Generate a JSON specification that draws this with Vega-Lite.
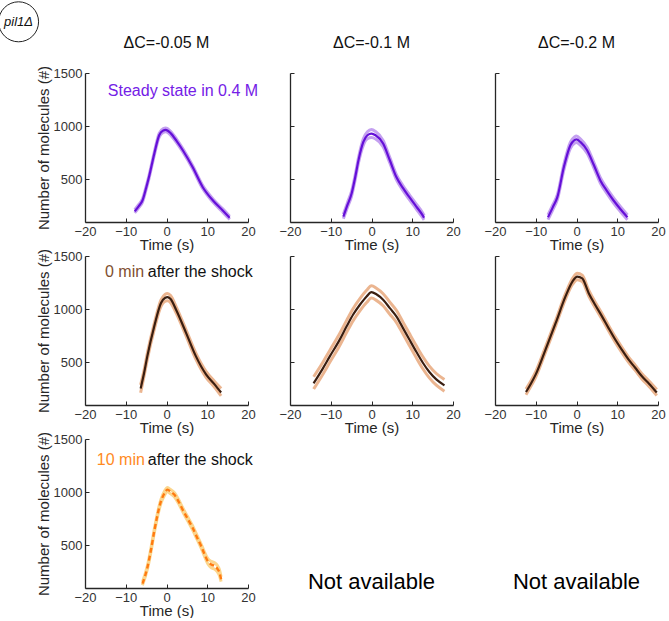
{
"$schema":"https://vega.github.io/schema/vega-lite/v6.json",
"padding":{"left":-4,"top":-1,"right":0,"bottom":0},
"bounds":"flush",
"columns":3,
"spacing":{"row":34,"column":42},
"config":{
 "view":{"stroke":null},
 "axis":{"grid":false,"format":"d","domainColor":"#262626","domainWidth":1.3,"tickColor":"#262626","tickSize":-4,"tickWidth":1,"labelColor":"#333333","labelFont":"Liberation Sans","labelFontSize":13,"labelFlush":false,"labelOverlap":false,"titleFont":"Liberation Sans","titleFontSize":15,"titleFontWeight":"normal","titleColor":"#262626"},
 "axisX":{"labelPadding":7,"titlePadding":-1},
 "axisY":{"labelPadding":7,"titlePadding":2},
 "text":{"font":"Liberation Sans"}
},
"datasets":{
 "p11":[{"t":-7.8,"y":201,"lo":186,"hi":216},{"t":-6.8,"y":250,"lo":235,"hi":265},{"t":-5.9,"y":302,"lo":287,"hi":317},{"t":-5.0,"y":420,"lo":405,"hi":435},{"t":-4.3,"y":522,"lo":507,"hi":537},{"t":-3.0,"y":742,"lo":727,"hi":757},{"t":-1.8,"y":915,"lo":898,"hi":932},{"t":-0.8,"y":960,"lo":942,"hi":978},{"t":-0.2,"y":965,"lo":947,"hi":983},{"t":1.0,"y":935,"lo":917,"hi":953},{"t":2.5,"y":860,"lo":843,"hi":877},{"t":4.0,"y":774,"lo":758,"hi":790},{"t":6.4,"y":616,"lo":601,"hi":631},{"t":8.9,"y":427,"lo":412,"hi":442},{"t":11.4,"y":302,"lo":287,"hi":317},{"t":13.8,"y":208,"lo":193,"hi":223},{"t":15.5,"y":139,"lo":124,"hi":154}],
 "p12":[{"t":-6.9,"y":151,"lo":130,"hi":172},{"t":-5.9,"y":260,"lo":238,"hi":282},{"t":-4.9,"y":365,"lo":342,"hi":388},{"t":-4.0,"y":520,"lo":497,"hi":543},{"t":-3.2,"y":679,"lo":655,"hi":703},{"t":-2.0,"y":852,"lo":822,"hi":882},{"t":-1.0,"y":915,"lo":882,"hi":948},{"t":0,"y":931,"lo":893,"hi":969},{"t":1.0,"y":915,"lo":880,"hi":950},{"t":2.85,"y":837,"lo":807,"hi":867},{"t":4.5,"y":680,"lo":655,"hi":705},{"t":6.1,"y":522,"lo":499,"hi":545},{"t":7.7,"y":420,"lo":397,"hi":443},{"t":9.3,"y":333,"lo":310,"hi":356},{"t":11.0,"y":245,"lo":222,"hi":268},{"t":12.6,"y":160,"lo":138,"hi":182},{"t":12.9,"y":140,"lo":120,"hi":160}],
 "p13":[{"t":-7,"y":144,"lo":122,"hi":166},{"t":-5.8,"y":240,"lo":217,"hi":263},{"t":-4.7,"y":333,"lo":310,"hi":356},{"t":-3.1,"y":616,"lo":590,"hi":642},{"t":-1.5,"y":821,"lo":792,"hi":850},{"t":-0.5,"y":870,"lo":840,"hi":900},{"t":0,"y":877,"lo":846,"hi":908},{"t":1.0,"y":850,"lo":820,"hi":880},{"t":2.6,"y":774,"lo":746,"hi":802},{"t":4.2,"y":640,"lo":614,"hi":666},{"t":5.85,"y":491,"lo":466,"hi":516},{"t":7.5,"y":390,"lo":366,"hi":414},{"t":9.1,"y":302,"lo":278,"hi":326},{"t":10.8,"y":220,"lo":197,"hi":243},{"t":12.5,"y":144,"lo":122,"hi":166}],
 "p21":[{"t":-6.35,"y":254,"lo":215,"hi":290},{"t":-5.5,"y":400,"lo":372,"hi":428},{"t":-4.7,"y":559,"lo":531,"hi":587},{"t":-3.0,"y":839,"lo":811,"hi":867},{"t":-1.35,"y":1058,"lo":1028,"hi":1088},{"t":-0.3,"y":1108,"lo":1075,"hi":1141},{"t":0.25,"y":1114,"lo":1080,"hi":1148},{"t":1.0,"y":1095,"lo":1062,"hi":1128},{"t":2.35,"y":995,"lo":965,"hi":1025},{"t":4.8,"y":778,"lo":750,"hi":806},{"t":7.2,"y":559,"lo":531,"hi":587},{"t":9.7,"y":388,"lo":360,"hi":416},{"t":11.8,"y":294,"lo":266,"hi":322},{"t":13.4,"y":217,"lo":185,"hi":255}],
 "p22":[{"t":-14.2,"y":304,"lo":250,"hi":365},{"t":-12,"y":440,"lo":385,"hi":497},{"t":-10.2,"y":559,"lo":503,"hi":615},{"t":-8,"y":700,"lo":645,"hi":757},{"t":-6.1,"y":839,"lo":783,"hi":895},{"t":-4.5,"y":950,"lo":893,"hi":1007},{"t":-2.85,"y":1042,"lo":985,"hi":1100},{"t":-1.2,"y":1120,"lo":1063,"hi":1178},{"t":0,"y":1161,"lo":1105,"hi":1220},{"t":1.2,"y":1140,"lo":1083,"hi":1197},{"t":2.85,"y":1089,"lo":1032,"hi":1146},{"t":4.5,"y":1010,"lo":953,"hi":1067},{"t":6.1,"y":933,"lo":877,"hi":990},{"t":7.7,"y":825,"lo":769,"hi":881},{"t":9.3,"y":715,"lo":659,"hi":771},{"t":11,"y":600,"lo":544,"hi":656},{"t":12.6,"y":497,"lo":441,"hi":553},{"t":14.2,"y":410,"lo":355,"hi":465},{"t":15.9,"y":341,"lo":286,"hi":396},{"t":17.9,"y":285,"lo":230,"hi":340}],
 "p23":[{"t":-12.4,"y":222,"lo":197,"hi":250},{"t":-11.2,"y":300,"lo":275,"hi":325},{"t":-10,"y":388,"lo":363,"hi":413},{"t":-7.6,"y":621,"lo":596,"hi":646},{"t":-5.1,"y":871,"lo":846,"hi":896},{"t":-2.7,"y":1120,"lo":1094,"hi":1146},{"t":-1,"y":1260,"lo":1232,"hi":1288},{"t":0.2,"y":1307,"lo":1277,"hi":1337},{"t":1.4,"y":1290,"lo":1260,"hi":1320},{"t":3.0,"y":1151,"lo":1124,"hi":1178},{"t":4.6,"y":1040,"lo":1014,"hi":1066},{"t":6.25,"y":933,"lo":907,"hi":959},{"t":7.9,"y":820,"lo":795,"hi":845},{"t":9.5,"y":715,"lo":690,"hi":740},{"t":11.1,"y":620,"lo":595,"hi":645},{"t":12.75,"y":528,"lo":503,"hi":553},{"t":14.4,"y":450,"lo":425,"hi":475},{"t":16,"y":372,"lo":347,"hi":397},{"t":17.8,"y":300,"lo":275,"hi":325},{"t":19.7,"y":217,"lo":190,"hi":245}],
 "p31":[{"t":-5.9,"y":141,"lo":125,"hi":157},{"t":-4.7,"y":291,"lo":274,"hi":308},{"t":-3.8,"y":460,"lo":442,"hi":478},{"t":-3.0,"y":635,"lo":617,"hi":653},{"t":-1.35,"y":916,"lo":897,"hi":935},{"t":-0.5,"y":990,"lo":970,"hi":1010},{"t":0.25,"y":1024,"lo":1004,"hi":1044},{"t":1.0,"y":1005,"lo":985,"hi":1025},{"t":1.9,"y":978,"lo":958,"hi":998},{"t":3.0,"y":910,"lo":891,"hi":929},{"t":3.95,"y":837,"lo":818,"hi":856},{"t":5.2,"y":750,"lo":731,"hi":769},{"t":6.4,"y":666,"lo":647,"hi":685},{"t":7.5,"y":575,"lo":556,"hi":594},{"t":8.5,"y":494,"lo":475,"hi":513},{"t":9.3,"y":420,"lo":400,"hi":440},{"t":10.1,"y":354,"lo":330,"hi":378},{"t":11.0,"y":320,"lo":290,"hi":350},{"t":11.8,"y":307,"lo":277,"hi":337},{"t":12.5,"y":280,"lo":250,"hi":310},{"t":13.0,"y":244,"lo":215,"hi":273},{"t":13.4,"y":182,"lo":160,"hi":205}]
},
"concat":[
 {"width":163,"height":149,"data":{"name":"p11"},
  "layer":[
   {"mark":{"type":"line","color":"#c4a0f0","strokeWidth":3,"interpolate":"monotone"},"encoding":{"x":{"field":"t","type":"quantitative","scale":{"domain":[-20,20],"nice":false},"axis":{"title":"Time (s)","values":[-20,-10,0,10,20]}},"y":{"field":"hi","type":"quantitative","scale":{"domain":[100,1500],"nice":false},"axis":{"title":"Number of molecules (#)","values":[500,1000,1500]}}}},
   {"mark":{"type":"line","color":"#c4a0f0","strokeWidth":3,"interpolate":"monotone"},"encoding":{"x":{"field":"t","type":"quantitative","axis":{"title":"Time (s)","values":[-20,-10,0,10,20]}},"y":{"field":"lo","type":"quantitative","axis":{"title":"Number of molecules (#)","values":[500,1000,1500]}}}},
   {"mark":{"type":"line","color":"#6510d8","strokeWidth":2.2,"interpolate":"monotone"},"encoding":{"x":{"field":"t","type":"quantitative","axis":{"title":"Time (s)","values":[-20,-10,0,10,20]}},"y":{"field":"y","type":"quantitative","axis":{"title":"Number of molecules (#)","values":[500,1000,1500]}}}},
   {"data":{"values":[{"t":-14.4,"y":1331,"label":"Steady state in 0.4 M"}]},"mark":{"type":"text","align":"left","baseline":"middle","fontSize":16,"color":"#7420e6","clip":false},"encoding":{"x":{"field":"t","type":"quantitative","axis":{"title":"Time (s)","values":[-20,-10,0,10,20]}},"y":{"field":"y","type":"quantitative","axis":{"title":"Number of molecules (#)","values":[500,1000,1500]}},"text":{"field":"label"}}},
   {"data":{"values":[{"t":0,"y":1782,"label":"ΔC=-0.05 M"}]},"mark":{"type":"text","align":"center","baseline":"middle","fontSize":16,"color":"#111111","clip":false},"encoding":{"x":{"field":"t","type":"quantitative","axis":{"title":"Time (s)","values":[-20,-10,0,10,20]}},"y":{"field":"y","type":"quantitative","axis":{"title":"Number of molecules (#)","values":[500,1000,1500]}},"text":{"field":"label"}}},
   {"data":{"values":[{"t":-36.3,"y":1981,"label":"pil1Δ"}]},"mark":{"type":"point","shape":"circle","size":1600,"filled":false,"stroke":"#222222","strokeWidth":1,"opacity":1,"clip":false},"encoding":{"x":{"field":"t","type":"quantitative","axis":{"title":"Time (s)","values":[-20,-10,0,10,20]}},"y":{"field":"y","type":"quantitative","axis":{"title":"Number of molecules (#)","values":[500,1000,1500]}}}},
   {"data":{"values":[{"t":-36.3,"y":1981,"label":"pil1Δ"}]},"mark":{"type":"text","align":"center","baseline":"middle","fontSize":13,"fontStyle":"italic","color":"#111111","clip":false},"encoding":{"x":{"field":"t","type":"quantitative","axis":{"title":"Time (s)","values":[-20,-10,0,10,20]}},"y":{"field":"y","type":"quantitative","axis":{"title":"Number of molecules (#)","values":[500,1000,1500]}},"text":{"field":"label"}}}
  ]},
 {"width":163,"height":149,"data":{"name":"p12"},
  "layer":[
   {"mark":{"type":"line","color":"#c4a0f0","strokeWidth":3,"interpolate":"monotone"},"encoding":{"x":{"field":"t","type":"quantitative","scale":{"domain":[-20,20],"nice":false},"axis":{"title":"Time (s)","values":[-20,-10,0,10,20]}},"y":{"field":"hi","type":"quantitative","scale":{"domain":[100,1500],"nice":false},"axis":{"title":null,"labels":false,"values":[500,1000,1500]}}}},
   {"mark":{"type":"line","color":"#c4a0f0","strokeWidth":3,"interpolate":"monotone"},"encoding":{"x":{"field":"t","type":"quantitative","axis":{"title":"Time (s)","values":[-20,-10,0,10,20]}},"y":{"field":"lo","type":"quantitative","axis":{"title":null,"labels":false,"values":[500,1000,1500]}}}},
   {"mark":{"type":"line","color":"#6510d8","strokeWidth":2.2,"interpolate":"monotone"},"encoding":{"x":{"field":"t","type":"quantitative","axis":{"title":"Time (s)","values":[-20,-10,0,10,20]}},"y":{"field":"y","type":"quantitative","axis":{"title":null,"labels":false,"values":[500,1000,1500]}}}},
   {"data":{"values":[{"t":0,"y":1782,"label":"ΔC=-0.1 M"}]},"mark":{"type":"text","align":"center","baseline":"middle","fontSize":16,"color":"#111111","clip":false},"encoding":{"x":{"field":"t","type":"quantitative","axis":{"title":"Time (s)","values":[-20,-10,0,10,20]}},"y":{"field":"y","type":"quantitative","axis":{"title":null,"labels":false,"values":[500,1000,1500]}},"text":{"field":"label"}}}
  ]},
 {"width":163,"height":149,"data":{"name":"p13"},
  "layer":[
   {"mark":{"type":"line","color":"#c4a0f0","strokeWidth":3,"interpolate":"monotone"},"encoding":{"x":{"field":"t","type":"quantitative","scale":{"domain":[-20,20],"nice":false},"axis":{"title":"Time (s)","values":[-20,-10,0,10,20]}},"y":{"field":"hi","type":"quantitative","scale":{"domain":[100,1500],"nice":false},"axis":{"title":null,"labels":false,"values":[500,1000,1500]}}}},
   {"mark":{"type":"line","color":"#c4a0f0","strokeWidth":3,"interpolate":"monotone"},"encoding":{"x":{"field":"t","type":"quantitative","axis":{"title":"Time (s)","values":[-20,-10,0,10,20]}},"y":{"field":"lo","type":"quantitative","axis":{"title":null,"labels":false,"values":[500,1000,1500]}}}},
   {"mark":{"type":"line","color":"#6510d8","strokeWidth":2.2,"interpolate":"monotone"},"encoding":{"x":{"field":"t","type":"quantitative","axis":{"title":"Time (s)","values":[-20,-10,0,10,20]}},"y":{"field":"y","type":"quantitative","axis":{"title":null,"labels":false,"values":[500,1000,1500]}}}},
   {"data":{"values":[{"t":0,"y":1782,"label":"ΔC=-0.2 M"}]},"mark":{"type":"text","align":"center","baseline":"middle","fontSize":16,"color":"#111111","clip":false},"encoding":{"x":{"field":"t","type":"quantitative","axis":{"title":"Time (s)","values":[-20,-10,0,10,20]}},"y":{"field":"y","type":"quantitative","axis":{"title":null,"labels":false,"values":[500,1000,1500]}},"text":{"field":"label"}}}
  ]},
 {"width":163,"height":149,"data":{"name":"p21"},
  "layer":[
   {"mark":{"type":"line","color":"#ebb590","strokeWidth":3,"interpolate":"monotone"},"encoding":{"x":{"field":"t","type":"quantitative","scale":{"domain":[-20,20],"nice":false},"axis":{"title":"Time (s)","values":[-20,-10,0,10,20]}},"y":{"field":"hi","type":"quantitative","scale":{"domain":[100,1500],"nice":false},"axis":{"title":"Number of molecules (#)","values":[500,1000,1500]}}}},
   {"mark":{"type":"line","color":"#ebb590","strokeWidth":3,"interpolate":"monotone"},"encoding":{"x":{"field":"t","type":"quantitative","axis":{"title":"Time (s)","values":[-20,-10,0,10,20]}},"y":{"field":"lo","type":"quantitative","axis":{"title":"Number of molecules (#)","values":[500,1000,1500]}}}},
   {"mark":{"type":"line","color":"#3a1e10","strokeWidth":2.2,"interpolate":"monotone"},"encoding":{"x":{"field":"t","type":"quantitative","axis":{"title":"Time (s)","values":[-20,-10,0,10,20]}},"y":{"field":"y","type":"quantitative","axis":{"title":"Number of molecules (#)","values":[500,1000,1500]}}}},
   {"data":{"values":[{"t":-15.1,"y":1350,"label":"0 min"}]},"mark":{"type":"text","align":"left","baseline":"middle","fontSize":16,"color":"#804f30","clip":false},"encoding":{"x":{"field":"t","type":"quantitative","axis":{"title":"Time (s)","values":[-20,-10,0,10,20]}},"y":{"field":"y","type":"quantitative","axis":{"title":"Number of molecules (#)","values":[500,1000,1500]}},"text":{"field":"label"}}},
   {"data":{"values":[{"t":-4.6,"y":1350,"label":"after the shock"}]},"mark":{"type":"text","align":"left","baseline":"middle","fontSize":16,"color":"#111111","clip":false},"encoding":{"x":{"field":"t","type":"quantitative","axis":{"title":"Time (s)","values":[-20,-10,0,10,20]}},"y":{"field":"y","type":"quantitative","axis":{"title":"Number of molecules (#)","values":[500,1000,1500]}},"text":{"field":"label"}}}
  ]},
 {"width":163,"height":149,"data":{"name":"p22"},
  "layer":[
   {"mark":{"type":"line","color":"#ebb590","strokeWidth":3,"interpolate":"monotone"},"encoding":{"x":{"field":"t","type":"quantitative","scale":{"domain":[-20,20],"nice":false},"axis":{"title":"Time (s)","values":[-20,-10,0,10,20]}},"y":{"field":"hi","type":"quantitative","scale":{"domain":[100,1500],"nice":false},"axis":{"title":null,"labels":false,"values":[500,1000,1500]}}}},
   {"mark":{"type":"line","color":"#ebb590","strokeWidth":3,"interpolate":"monotone"},"encoding":{"x":{"field":"t","type":"quantitative","axis":{"title":"Time (s)","values":[-20,-10,0,10,20]}},"y":{"field":"lo","type":"quantitative","axis":{"title":null,"labels":false,"values":[500,1000,1500]}}}},
   {"mark":{"type":"line","color":"#3a1e10","strokeWidth":2.2,"interpolate":"monotone"},"encoding":{"x":{"field":"t","type":"quantitative","axis":{"title":"Time (s)","values":[-20,-10,0,10,20]}},"y":{"field":"y","type":"quantitative","axis":{"title":null,"labels":false,"values":[500,1000,1500]}}}}
  ]},
 {"width":163,"height":149,"data":{"name":"p23"},
  "layer":[
   {"mark":{"type":"line","color":"#ebb590","strokeWidth":3,"interpolate":"monotone"},"encoding":{"x":{"field":"t","type":"quantitative","scale":{"domain":[-20,20],"nice":false},"axis":{"title":"Time (s)","values":[-20,-10,0,10,20]}},"y":{"field":"hi","type":"quantitative","scale":{"domain":[100,1500],"nice":false},"axis":{"title":null,"labels":false,"values":[500,1000,1500]}}}},
   {"mark":{"type":"line","color":"#ebb590","strokeWidth":3,"interpolate":"monotone"},"encoding":{"x":{"field":"t","type":"quantitative","axis":{"title":"Time (s)","values":[-20,-10,0,10,20]}},"y":{"field":"lo","type":"quantitative","axis":{"title":null,"labels":false,"values":[500,1000,1500]}}}},
   {"mark":{"type":"line","color":"#3a1e10","strokeWidth":2.2,"interpolate":"monotone"},"encoding":{"x":{"field":"t","type":"quantitative","axis":{"title":"Time (s)","values":[-20,-10,0,10,20]}},"y":{"field":"y","type":"quantitative","axis":{"title":null,"labels":false,"values":[500,1000,1500]}}}}
  ]},
 {"width":163,"height":149,"data":{"name":"p31"},
  "layer":[
   {"mark":{"type":"line","color":"#fbd68e","strokeWidth":3,"interpolate":"monotone"},"encoding":{"x":{"field":"t","type":"quantitative","scale":{"domain":[-20,20],"nice":false},"axis":{"title":"Time (s)","values":[-20,-10,0,10,20]}},"y":{"field":"hi","type":"quantitative","scale":{"domain":[100,1500],"nice":false},"axis":{"title":"Number of molecules (#)","values":[500,1000,1500]}}}},
   {"mark":{"type":"line","color":"#fbd68e","strokeWidth":3,"interpolate":"monotone"},"encoding":{"x":{"field":"t","type":"quantitative","axis":{"title":"Time (s)","values":[-20,-10,0,10,20]}},"y":{"field":"lo","type":"quantitative","axis":{"title":"Number of molecules (#)","values":[500,1000,1500]}}}},
   {"mark":{"type":"line","color":"#ff7a10","strokeWidth":2.4,"strokeDash":[5,3],"interpolate":"monotone"},"encoding":{"x":{"field":"t","type":"quantitative","axis":{"title":"Time (s)","values":[-20,-10,0,10,20]}},"y":{"field":"y","type":"quantitative","axis":{"title":"Number of molecules (#)","values":[500,1000,1500]}}}},
   {"data":{"values":[{"t":-17.1,"y":1303,"label":"10 min"}]},"mark":{"type":"text","align":"left","baseline":"middle","fontSize":16,"color":"#ff8a1e","clip":false},"encoding":{"x":{"field":"t","type":"quantitative","axis":{"title":"Time (s)","values":[-20,-10,0,10,20]}},"y":{"field":"y","type":"quantitative","axis":{"title":"Number of molecules (#)","values":[500,1000,1500]}},"text":{"field":"label"}}},
   {"data":{"values":[{"t":-4.6,"y":1303,"label":"after the shock"}]},"mark":{"type":"text","align":"left","baseline":"middle","fontSize":16,"color":"#111111","clip":false},"encoding":{"x":{"field":"t","type":"quantitative","axis":{"title":"Time (s)","values":[-20,-10,0,10,20]}},"y":{"field":"y","type":"quantitative","axis":{"title":"Number of molecules (#)","values":[500,1000,1500]}},"text":{"field":"label"}}}
  ]},
 {"width":163,"height":149,"data":{"values":[{"t":0,"y":156,"label":"Not available"}]},
  "mark":{"type":"text","align":"center","baseline":"middle","fontSize":22,"color":"#000000","clip":false},
  "encoding":{"x":{"field":"t","type":"quantitative","scale":{"domain":[-20,20],"nice":false},"axis":null},"y":{"field":"y","type":"quantitative","scale":{"domain":[100,1500],"nice":false},"axis":null},"text":{"field":"label"}}},
 {"width":163,"height":149,"data":{"values":[{"t":0,"y":156,"label":"Not available"}]},
  "mark":{"type":"text","align":"center","baseline":"middle","fontSize":22,"color":"#000000","clip":false},
  "encoding":{"x":{"field":"t","type":"quantitative","scale":{"domain":[-20,20],"nice":false},"axis":null},"y":{"field":"y","type":"quantitative","scale":{"domain":[100,1500],"nice":false},"axis":null},"text":{"field":"label"}}}
]
}
